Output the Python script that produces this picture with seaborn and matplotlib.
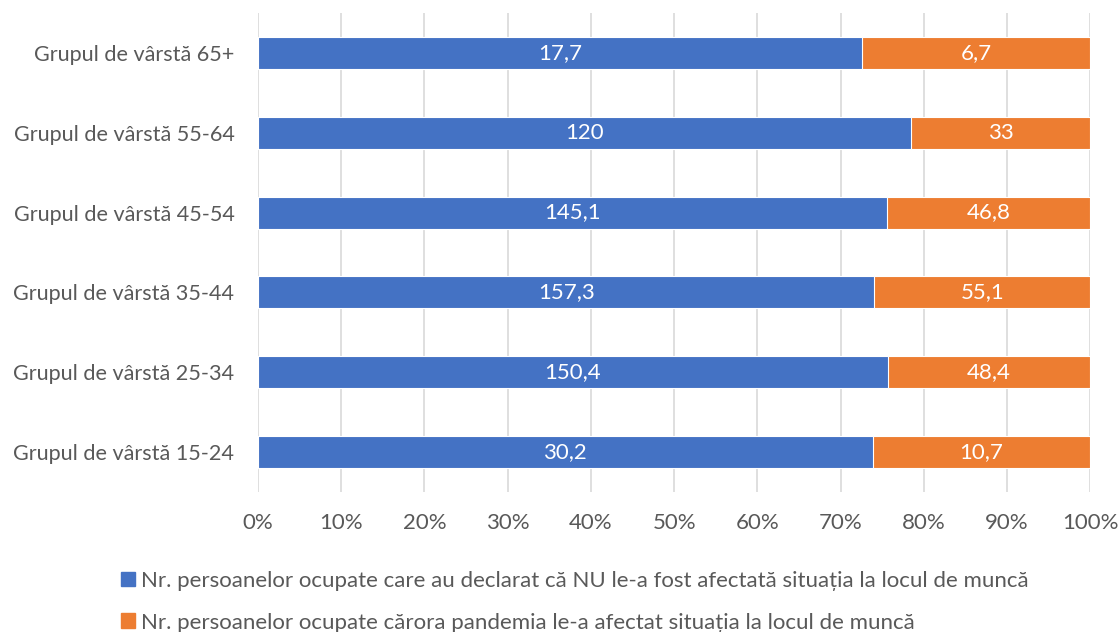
import pandas as pd
import seaborn as sns
import matplotlib.pyplot as plt
from matplotlib.patches import Patch
from matplotlib.ticker import PercentFormatter

groups = ["Grupul de vârstă 65+", "Grupul de vârstă 55-64", "Grupul de vârstă 45-54",
          "Grupul de vârstă 35-44", "Grupul de vârstă 25-34", "Grupul de vârstă 15-24"]
not_affected = [17.7, 120, 145.1, 157.3, 150.4, 30.2]
affected = [6.7, 33, 46.8, 55.1, 48.4, 10.7]
label_blue = "Nr. persoanelor ocupate care au declarat că NU le-a fost afectată situația la locul de muncă"
label_orange = "Nr. persoanelor ocupate cărora pandemia le-a afectat situația la locul de muncă"

BLUE = "#4472C4"
ORANGE = "#ED7D31"
GREY = "#595959"

df = pd.DataFrame({"group": groups, "blue": not_affected, "orange": affected})
df["total"] = df["blue"] + df["orange"]
df["blue_pct"] = df["blue"] / df["total"] * 100
df["full"] = 100.0

sns.set_style("white")
plt.rcParams["font.family"] = ["Lato", "DejaVu Sans"]

fig = plt.figure(figsize=(11.2, 6.32), dpi=100)
ax = fig.add_axes([0.2304, 0.2215, 0.743, 0.758])

sns.barplot(data=df, y="group", x="full", color=ORANGE, orient="h", width=0.4,
            saturation=1, edgecolor="white", linewidth=0.8, ax=ax)
sns.barplot(data=df, y="group", x="blue_pct", color=BLUE, orient="h", width=0.4,
            saturation=1, edgecolor="white", linewidth=0.8, ax=ax)

for i, row in df.iterrows():
    ax.text(row["blue_pct"] / 2, i, f"{row['blue']:g}".replace(".", ","),
            ha="center", va="center", color="white", fontsize=16)
    ax.text(row["blue_pct"] + (100 - row["blue_pct"]) / 2, i,
            f"{row['orange']:g}".replace(".", ","),
            ha="center", va="center", color="white", fontsize=16)

ax.set_xlim(0, 100)
ax.set_ylim(5.5, -0.5)
ax.set_xticks(range(0, 101, 10))
ax.xaxis.set_major_formatter(PercentFormatter(decimals=0))
ax.grid(axis="x", color="#D9D9D9", linewidth=1.2)
ax.set_axisbelow(True)
for s in ax.spines.values():
    s.set_visible(False)
ax.set_xlabel("")
ax.set_ylabel("")
ax.tick_params(axis="x", length=0, labelsize=16, colors=GREY, pad=15)
ax.tick_params(axis="y", length=0, labelsize=15.6, colors=GREY, pad=17)

handles = [Patch(color=BLUE), Patch(color=ORANGE)]
fig.legend(handles, [label_blue, label_orange], loc="upper left",
           bbox_to_anchor=(0.1, 0.111), frameon=False, fontsize=16,
           labelcolor=GREY, handlelength=0.65, handleheight=0.65,
           handletextpad=0.25, labelspacing=0.98, borderaxespad=0)

fig.savefig("out.png", dpi=100)
